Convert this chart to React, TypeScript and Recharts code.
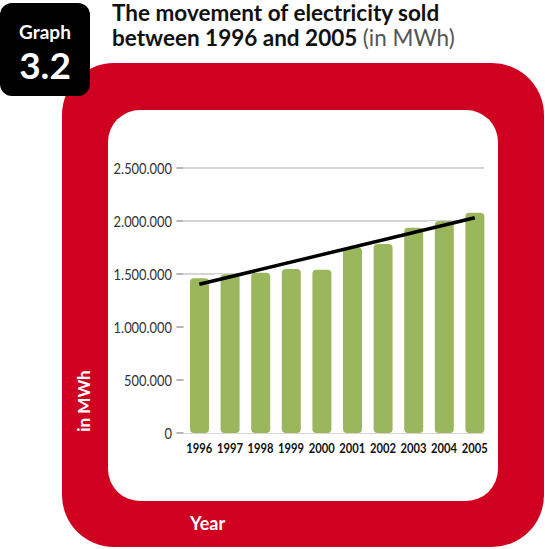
import React from 'react';
import {
  ComposedChart,
  Bar,
  Line,
  XAxis,
  YAxis,
  CartesianGrid,
} from 'recharts';

// values (MWh sold)
const years = ['1996', '1997', '1998', '1999', '2000', '2001', '2002', '2003', '2004', '2005'];
const sold = [1459000, 1497000, 1512000, 1547000, 1541000, 1752000, 1783000, 1937000, 2000000, 2078000];
// trend line end points as drawn in the reference
const trend = [1403000, null, null, null, null, null, null, null, null, 2031000];
const yTicks = [0, 500000, 1000000, 1500000, 2000000, 2500000];

const data = years.map((year, i) => ({ year, sold: sold[i], trend: trend[i] }));

const RED = '#d00020';
const GREEN = '#9bb75d';
const FONT = 'Lato, "Open Sans", sans-serif';

const fmt = (v: number) => String(v).replace(/\B(?=(\d{3})+(?!\d))/g, '.');

interface TickProps {
  x?: number;
  y?: number;
  payload?: { value: number | string };
}

const YTick = ({ x = 0, y = 0, payload }: TickProps) => (
  <g>
    <line x1={x + 1} x2={x + 7} y1={y} y2={y} stroke="#999" strokeWidth={1} />
    <g transform={`translate(${x - 4},${y}) scale(0.86,1)`}>
      <text
        x={0}
        y={0}
        textAnchor="end"
        dominantBaseline="central"
        fill="#333"
        fontSize={15}
        fontFamily={FONT}
      >
        {fmt(Number(payload?.value ?? 0))}
      </text>
    </g>
  </g>
);

const XTick = ({ x = 0, y = 0, payload }: TickProps) => (
  <g transform={`translate(${x},${y}) scale(0.8,1)`}>
    <text
      x={0}
      y={0}
      dy={10}
      textAnchor="middle"
      fill="#111"
      fontSize={14}
      fontWeight={700}
      fontFamily={FONT}
    >
      {payload?.value}
    </text>
  </g>
);

interface ShapeProps {
  x?: number;
  y?: number;
  width?: number;
  height?: number;
}

// white slot behind each bar hides the grid, then the rounded green bar
const RoundBar = ({ x = 0, y = 0, width = 0, height = 0 }: ShapeProps) => (
  <g>
    <rect x={x - 6} y={y} width={width + 12} height={height} fill="#fff" />
    <rect x={x} y={y} width={width} height={height} rx={4} ry={4} fill={GREEN} />
  </g>
);

export default function App() {
  return (
    <div style={{ position: 'absolute', left: 0, top: 0, width: 545, height: 549, overflow: 'hidden', background: '#fff' }}>
      {/* red frame */}
      <div style={{ position: 'absolute', left: 62, top: 63, width: 482, height: 484, background: RED, borderRadius: 52 }} />
      <div style={{ position: 'absolute', left: 108, top: 110, width: 390, height: 391, background: '#fff', borderRadius: 32 }} />

      {/* badge */}
      <div style={{ position: 'absolute', left: 0, top: 3, width: 90, height: 93, background: '#000', borderRadius: 12 }}>
        <div style={{ position: 'absolute', left: 0, top: 19, width: 90, textAlign: 'center', color: '#fff', fontFamily: FONT, fontWeight: 700, fontSize: 19, lineHeight: '20px' }}>
          Graph
        </div>
        <div style={{ position: 'absolute', left: 0, top: 42, width: 90, textAlign: 'center', color: '#fff', fontFamily: FONT, fontWeight: 700, fontSize: 37, lineHeight: '40px' }}>
          3.2
        </div>
      </div>

      {/* title */}
      <div style={{ position: 'absolute', left: 112, top: 0, fontFamily: FONT, fontWeight: 700, fontSize: 22.5, lineHeight: '25px', color: '#111', whiteSpace: 'nowrap' }}>
        <div>The movement of electricity sold</div>
        <div>
          between 1996 and 2005 <span style={{ fontWeight: 400, color: '#555' }}>(in MWh)</span>
        </div>
      </div>

      {/* axis titles on the frame */}
      <div style={{ position: 'absolute', left: 83, top: 401, transform: 'translate(-50%, -50%) rotate(-90deg)', color: '#fff', fontFamily: FONT, fontWeight: 700, fontSize: 17, whiteSpace: 'nowrap' }}>
        in MWh
      </div>
      <div style={{ position: 'absolute', left: 190, top: 512, color: '#fff', fontFamily: FONT, fontWeight: 700, fontSize: 18, lineHeight: '22px' }}>
        Year
      </div>

      <div style={{ position: 'absolute', left: 0, top: 0 }}>
        <ComposedChart
          width={545}
          height={549}
          data={data}
          margin={{ top: 168, right: 61, bottom: 86, left: 0 }}
          barCategoryGap={0}
        >
          <CartesianGrid vertical={false} stroke="#aaa" strokeWidth={1} />
          <XAxis
            dataKey="year"
            axisLine={false}
            tickLine={false}
            tickSize={0}
            tickMargin={10}
            height={30}
            interval={0}
            padding={{ left: 8, right: -6 }}
            tick={<XTick />}
          />
          <YAxis
            width={176}
            domain={[0, 2500000]}
            ticks={yTicks}
            axisLine={false}
            tickLine={false}
            tickSize={0}
            tickMargin={0}
            tick={<YTick />}
          />
          <Bar dataKey="sold" barSize={19} shape={<RoundBar />} isAnimationActive={false} />
          <Line
            dataKey="trend"
            stroke="#000"
            strokeWidth={3.5}
            dot={false}
            connectNulls
            isAnimationActive={false}
          />
        </ComposedChart>
      </div>
    </div>
  );
}
